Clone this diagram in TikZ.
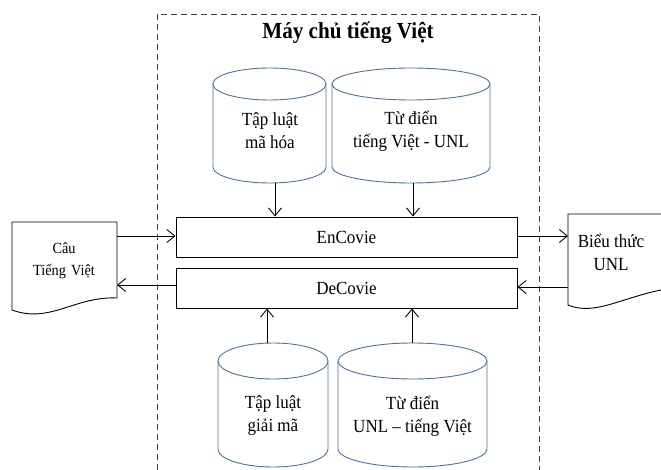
\documentclass[tikz,border=0pt]{standalone}
\usepackage{fontspec}
\setmainfont{Liberation Serif}[FakeStretch=0.92]
\usetikzlibrary{arrows.meta}
\definecolor{dbline}{RGB}{84,112,150}

% database drum: centre x, x radius, top y, bottom y, y radius
\newcommand{\dbdrum}[5]{%
	\draw[db] (#1-#2,#3) -- (#1-#2,#4) arc[start angle=180, end angle=0, x radius=#2, y radius=#5] -- (#1+#2,#3);
	\draw[db] (#1,#3) ellipse [x radius=#2, y radius=#5];
}

\begin{document}
\begin{tikzpicture}[x=1pt, y=-1pt,
		box/.style={draw, line width=0.9pt, minimum width=341pt, minimum height=40pt, inner sep=0pt},
		db/.style={draw=dbline, line width=0.9pt},
		doc/.style={draw, line width=0.9pt},
		flow/.style={-{Straight Barb[length=8pt, width=13pt]}, line width=0.9pt},
		txt/.style={align=center, inner sep=0pt, font=\fontsize{18.5}{23}\selectfont},
		smalltxt/.style={align=center, text width=90pt, inner sep=0pt, font=\fontsize{15.5}{22}\selectfont}]
	\useasboundingbox (0,0) rectangle (661,470);
	\clip (0,0) rectangle (661,470);

	% server frame, open at the bottom
	\draw[dash pattern=on 6pt off 4pt, line width=0.8pt, black!75] (157,480) -- (157,14) -- (539,14) -- (539,480);
	\node[inner sep=0pt, font=\fontsize{23}{26}\selectfont\bfseries] (server) at (348,33) {Máy chủ tiếng Việt};

	% upper stores
	\dbdrum{269.5}{56.5}{84}{167}{16}
	\node[txt] (rulesenc) at (270,131) {Tập luật\\mã hóa};
	\coordinate (rulesencout) at (275,183);
	\dbdrum{411}{79}{84}{167}{16}
	\node[txt] (dictenc) at (411,131) {Từ điển\\tiếng Việt - UNL};
	\coordinate (dictencout) at (413,183);

	% encoder / decoder
	\node[box, txt] (enc) at (346.5,237) {EnCovie};
	\node[box, txt] (dec) at (346.5,288) {DeCovie};

	% lower stores
	\dbdrum{273}{55}{361}{449}{18}
	\node[txt] (rulesdec) at (273,416) {Tập luật\\giải mã};
	\coordinate (rulesdecout) at (267,343);
	\dbdrum{412.5}{74.5}{361}{449}{18}
	\node[txt] (dictdec) at (412.5,416) {Từ điển\\UNL  – tiếng Việt};
	\coordinate (dictdecout) at (412,343);

	% input sentence
	\draw[doc] (117,298) -- (117,222) -- (12,222) -- (12,310)
		.. controls (50,324) and (75,296) .. (117,298);
	\node[smalltxt] (sentence) at (64,261) {Câu\\Tiếng Việt};
	\coordinate (sentout) at (117,236);
	\coordinate (sentin) at (117,285);

	% UNL expression
	\draw[doc] (690,214) -- (568,214) -- (568,305)
		.. controls (600,318) and (630,290) .. (690,286);
	\node[txt] (unl) at (611,252) {Biểu thức\\UNL};
	\coordinate (unlin) at (568,236);
	\coordinate (unlout) at (568,287);

	\draw[flow] (rulesencout) -- (rulesencout |- enc.north);
	\draw[flow] (dictencout) -- (dictencout |- enc.north);
	\draw[flow] (rulesdecout) -- (rulesdecout |- dec.south);
	\draw[flow] (dictdecout) -- (dictdecout |- dec.south);
	\draw[flow] (sentout) -- (sentout -| enc.west);
	\draw[flow] (sentin -| dec.west) -- (sentin);
	\draw[flow] (unlin -| enc.east) -- (unlin);
	\draw[flow] (unlout) -- (unlout -| dec.east);
\end{tikzpicture}
\end{document}
